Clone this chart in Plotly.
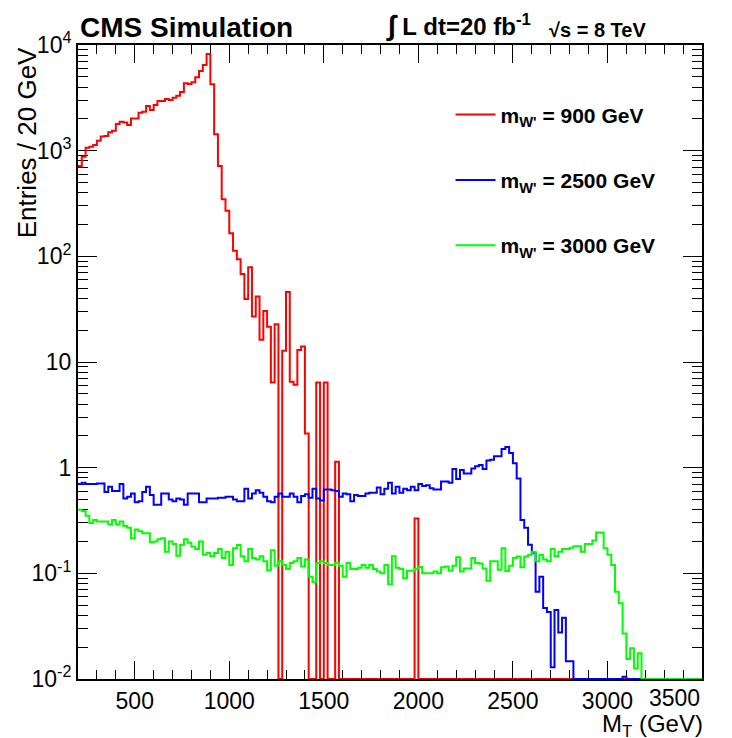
import plotly.graph_objects as go

# ---------------- data ----------------
bin_width = 20
x_min, x_max = 200, 3500
bin_edges = list(range(x_min, x_max + bin_width, bin_width))  # 166 edges, 165 bins

red_900 = [
    716, 877, 1066, 1090, 1130, 1240, 1360, 1380, 1490, 1540,
    1790, 1880, 1850, 1750, 2020, 2020, 2290, 2340, 2650, 2430,
    2700, 2950, 2950, 3080, 3020, 3170, 3310, 3590, 4340, 4270,
    4430, 4940, 5670, 6460, 8220, 4250, 1430, 716, 347, 270,
    165, 113, 94, 68, 39.5, 79, 27, 41.6, 16.2, 30.4,
    21.6, 6.4, 22.8, 0, 12.8, 46, 6.5, 6.1, 13, 14,
    2.1, 0, 0, 6.4, 0, 6.4, 0, 0, 1.14, 0,
    0, 0, 0, 0, 0, 0, 0, 0, 0, 0,
    0, 0, 0, 0, 0, 0, 0, 0, 0, 0.33,
    0, 0, 0, 0, 0, 0, 0, 0, 0, 0,
    0, 0, 0, 0, 0, 0, 0, 0, 0, 0,
    0, 0, 0, 0, 0, 0, 0, 0, 0, 0,
    0, 0, 0, 0, 0, 0, 0, 0, 0, 0,
    0, 0, 0, 0, 0, 0, 0, 0, 0, 0,
    0, 0, 0, 0, 0, 0, 0, 0, 0, 0,
    0, 0, 0, 0, 0, 0, 0, 0, 0, 0,
    0, 0, 0, 0, 0,
]

blue_2500 = [
    0.70, 0.72, 0.70, 0.70, 0.70, 0.71, 0.71, 0.59, 0.66, 0.60,
    0.60, 0.70, 0.51, 0.53, 0.57, 0.47, 0.48, 0.59, 0.66, 0.55,
    0.445, 0.445, 0.57, 0.57, 0.50, 0.48, 0.51, 0.50, 0.445, 0.57,
    0.57, 0.57, 0.47, 0.47, 0.51, 0.51, 0.51, 0.52, 0.52, 0.53,
    0.53, 0.50, 0.48, 0.48, 0.63, 0.51, 0.57, 0.61, 0.58, 0.53,
    0.48, 0.47, 0.53, 0.57, 0.53, 0.53, 0.57, 0.53, 0.47, 0.54,
    0.56, 0.52, 0.63, 0.51, 0.49, 0.62, 0.62, 0.61, 0.60, 0.53,
    0.57, 0.56, 0.48, 0.55, 0.54, 0.54, 0.57, 0.58, 0.58, 0.65,
    0.56, 0.63, 0.72, 0.57, 0.66, 0.58, 0.63, 0.61, 0.66, 0.61,
    0.70, 0.67, 0.68, 0.64, 0.62, 0.62, 0.74, 0.74, 0.72, 0.97,
    0.78, 0.95, 0.88, 0.88, 0.98, 1.03, 1.06, 0.97, 1.17, 1.19,
    1.28, 1.28, 1.50, 1.57, 1.38, 1.10, 0.79, 0.32, 0.27, 0.186,
    0.157, 0.067, 0.093, 0.047, 0.043, 0.0129, 0.045, 0.0275, 0.038, 0.0147,
    0.0147, 0, 0, 0, 0, 0, 0, 0, 0, 0,
    0, 0, 0, 0, 0.0105, 0, 0, 0, 0, 0,
    0, 0, 0, 0, 0, 0, 0, 0, 0, 0,
    0, 0, 0, 0, 0,
]

green_3000 = [
    0.40, 0.39, 0.35, 0.30, 0.32, 0.31, 0.31, 0.31, 0.29, 0.32,
    0.29, 0.31, 0.28, 0.27, 0.215, 0.26, 0.25, 0.24, 0.24, 0.197,
    0.20, 0.21, 0.215, 0.16, 0.20, 0.19, 0.147, 0.185, 0.21, 0.195,
    0.178, 0.17, 0.20, 0.15, 0.156, 0.145, 0.156, 0.17, 0.14, 0.16,
    0.12, 0.173, 0.185, 0.145, 0.13, 0.17, 0.14, 0.135, 0.145, 0.13,
    0.107, 0.165, 0.118, 0.13, 0.12, 0.11, 0.125, 0.13, 0.14, 0.116,
    0.135, 0.093, 0.083, 0.125, 0.13, 0.125, 0.12, 0.12, 0.126, 0.118,
    0.093, 0.125, 0.11, 0.11, 0.113, 0.12, 0.113, 0.12, 0.11, 0.104,
    0.10, 0.12, 0.079, 0.145, 0.113, 0.11, 0.09, 0.106, 0.106, 0.11,
    0.115, 0.10, 0.10, 0.10, 0.104, 0.10, 0.114, 0.116, 0.106, 0.118,
    0.142, 0.104, 0.111, 0.111, 0.14, 0.125, 0.124, 0.111, 0.085, 0.13,
    0.13, 0.108, 0.173, 0.105, 0.118, 0.14, 0.144, 0.114, 0.144, 0.15,
    0.16, 0.13, 0.15, 0.135, 0.13, 0.17, 0.145, 0.16, 0.17, 0.17,
    0.175, 0.18, 0.18, 0.16, 0.19, 0.19, 0.204, 0.243, 0.243, 0.173,
    0.15, 0.12, 0.067, 0.052, 0.027, 0.0155, 0.0195, 0.0126, 0.0175, 0,
    0, 0, 0, 0, 0, 0, 0, 0, 0, 0,
    0, 0, 0, 0, 0,
]

series_names = ["m<sub>W'</sub> = 900 GeV", "m<sub>W'</sub> = 2500 GeV", "m<sub>W'</sub> = 3000 GeV"]
series_values = [red_900, blue_2500, green_3000]
series_colors = ["#ff0000", "#0000ff", "#00ff00"]

y_tick_vals = [0.01, 0.1, 1, 10, 100, 1000, 10000]
y_tick_text = ["10<sup>-2</sup>", "10<sup>-1</sup>", "1", "10", "10<sup>2</sup>", "10<sup>3</sup>", "10<sup>4</sup>"]
x_tick_vals = [500, 1000, 1500, 2000, 2500, 3000, 3500]
x_tick_text = ["500", "1000", "1500", "2000", "2500", "3000", ""]  # last label placed flush right below

# ---------------- figure ----------------
y_floor = 0.01  # empty bins drawn at the bottom of the frame (as ROOT does)

fig = go.Figure()
for name, vals, col in zip(series_names, series_values, series_colors):
    yy = [v if v > 0 else y_floor for v in vals]
    yy = yy + [yy[-1]]
    fig.add_trace(go.Scatter(
        x=bin_edges, y=yy, mode="lines", line_shape="hv",
        line=dict(color=col, width=2), name="<b>" + name + "</b>",
        legendgroup=name,
    ))

font_family = "Liberation Sans, Arial, Helvetica, sans-serif"

x_minor = [v for v in range(300, 3500, 100) if v % 500 != 0]
y_minor = []
for dec in [0.01, 0.1, 1, 10, 100, 1000]:
    for m in range(2, 10):
        y_minor.append(dec * m)

# page body has an 8px margin: figure sized/offset to land the frame at the right place
fig.update_layout(
    width=724, height=730,
    margin=dict(l=70, r=30, t=37, b=59),
    paper_bgcolor="white", plot_bgcolor="white",
    font=dict(family=font_family, color="black", size=23),
    showlegend=True,
    legend=dict(
        x=0.597, y=0.922, xanchor="left", yanchor="top",
        font=dict(size=21, family=font_family),
        bgcolor="rgba(0,0,0,0)", tracegroupgap=35,
        itemwidth=40,
    ),
    xaxis=dict(
        range=[x_min, x_max], tickmode="array", tickvals=x_tick_vals, ticktext=x_tick_text,
        ticks="inside", ticklen=18, tickwidth=1, tickcolor="black",
        showline=True, linecolor="black", linewidth=2, mirror="ticks",
        showgrid=False, zeroline=False, layer="below traces", automargin=False,
        tickfont=dict(size=23),
        minor=dict(tickmode="array", tickvals=x_minor, ticks="inside", ticklen=9,
                   tickwidth=1, tickcolor="black", showgrid=False),
    ),
    yaxis=dict(
        type="log", range=[-2, 4], tickmode="array", tickvals=y_tick_vals, ticktext=y_tick_text,
        ticks="inside", ticklen=19, tickwidth=1, tickcolor="black",
        showline=True, linecolor="black", linewidth=2, mirror="ticks",
        showgrid=False, zeroline=False, layer="below traces", automargin=False,
        tickfont=dict(size=23),
        minor=dict(tickmode="array", tickvals=y_minor, ticks="inside", ticklen=10,
                   tickwidth=1, tickcolor="black", showgrid=False),
    ),
)

fig.add_annotation(text="3500", xref="x", yref="paper",
                   x=x_max, y=-0.006, xanchor="right", yanchor="top",
                   showarrow=False, font=dict(size=23, family=font_family))
fig.add_annotation(text="<b>CMS Simulation</b>", xref="paper", yref="paper",
                   x=0.0, y=1.027, xanchor="left", yanchor="middle",
                   showarrow=False, font=dict(size=28, family=font_family))
fig.add_annotation(text="<b><span style='font-size:28px'>∫</span> L dt=20 fb<sup>-1</sup></b>",
                   xref="paper", yref="paper",
                   x=0.49, y=1.03, xanchor="left", yanchor="middle",
                   showarrow=False, font=dict(size=24, family=font_family))
fig.add_annotation(text="<b>√s = 8 TeV</b>", xref="paper", yref="paper",
                   x=0.752, y=1.023, xanchor="left", yanchor="middle",
                   showarrow=False, font=dict(size=20, family=font_family))
fig.add_annotation(text="Entries / 20 GeV", xref="paper", yref="paper",
                   x=-0.082, y=1.0, xanchor="center", yanchor="top", textangle=-90,
                   showarrow=False, font=dict(size=26, family=font_family))
fig.add_annotation(text="M<sub>T</sub> (GeV)", xref="paper", yref="paper",
                   x=1.005, y=-0.073, xanchor="right", yanchor="middle",
                   showarrow=False, font=dict(size=24, family=font_family))

fig.write_html("out.html")
